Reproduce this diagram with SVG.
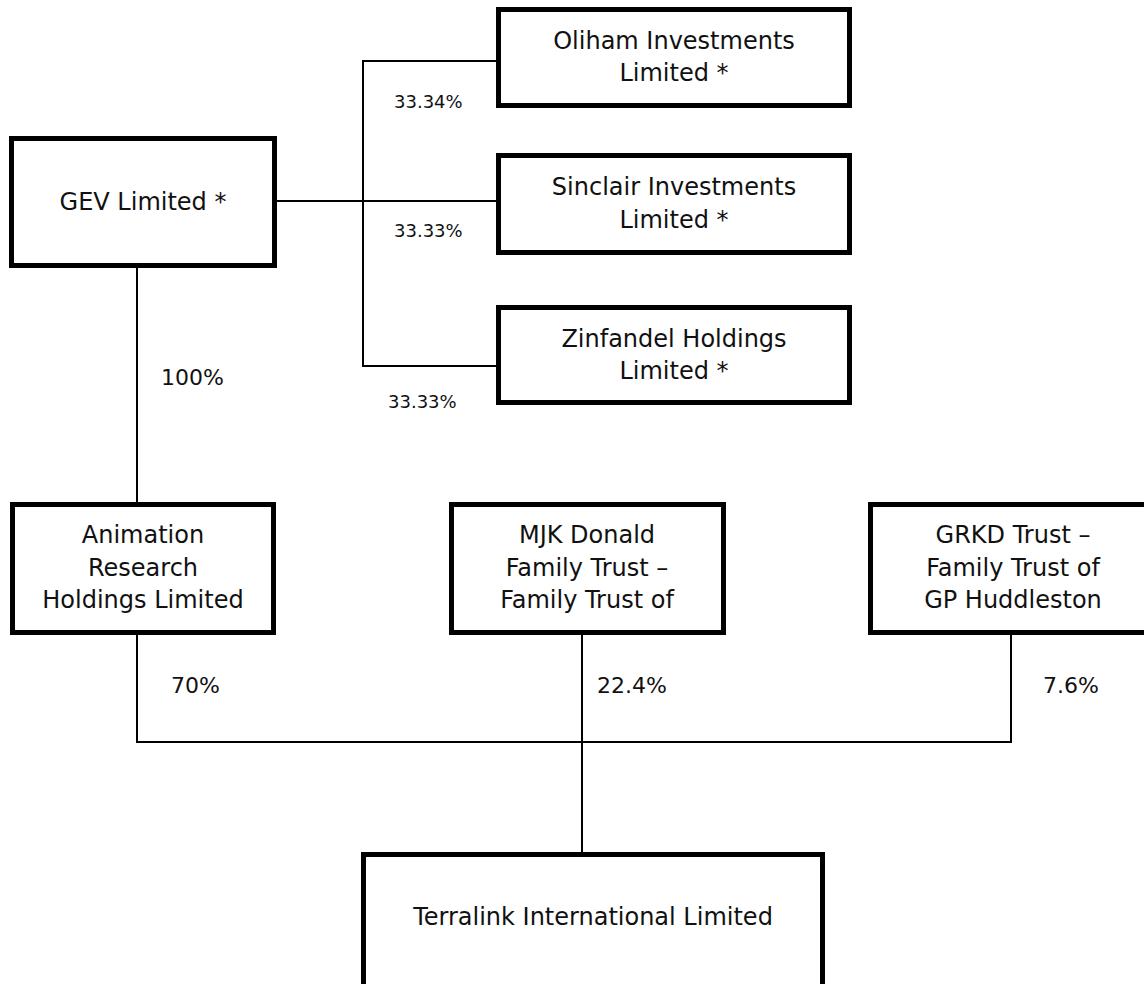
<svg xmlns="http://www.w3.org/2000/svg" width="1144" height="984" viewBox="0 0 1144 984">
<style>
.box{fill:#fff;stroke:#000;stroke-width:5;stroke-linejoin:miter}
.ln{fill:none;stroke:#000;stroke-width:2}
.t{font-family:"DejaVu Sans","Liberation Sans",sans-serif;font-size:24px;fill:#111;text-anchor:middle}
.p{font-family:"DejaVu Sans","Liberation Sans",sans-serif;font-size:22px;fill:#111}
.ps{font-family:"DejaVu Sans","Liberation Sans",sans-serif;font-size:18px;fill:#111}
</style>
<rect width="1144" height="984" fill="#fff"/>
<g id="connectors">
<line class="ln" x1="277" y1="201" x2="497" y2="201"/>
<line class="ln" x1="363" y1="60" x2="363" y2="367"/>
<line class="ln" x1="362" y1="61" x2="497" y2="61"/>
<line class="ln" x1="362" y1="366" x2="497" y2="366"/>
<line class="ln" x1="137" y1="268" x2="137" y2="503"/>
<line class="ln" x1="137" y1="634" x2="137" y2="743"/>
<line class="ln" x1="582" y1="634" x2="582" y2="853"/>
<line class="ln" x1="1011" y1="634" x2="1011" y2="743"/>
<line class="ln" x1="136" y1="742" x2="1012" y2="742"/>
<text class="ps" x="394" y="108">33.34%</text>
<text class="ps" x="394" y="237">33.33%</text>
<text class="ps" x="388" y="408">33.33%</text>
<text class="p" x="161" y="385">100%</text>
<text class="p" x="171" y="693">70%</text>
<text class="p" x="597" y="693">22.4%</text>
<text class="p" x="1043" y="693">7.6%</text>
</g>
<g id="gev">
<rect class="box" x="11.5" y="138.5" width="263" height="127"/>
<text class="t" x="143" y="210">GEV Limited *</text>
</g>
<g id="oliham">
<rect class="box" x="498.5" y="9.5" width="351" height="96"/>
<text class="t" x="674" y="49">Oliham Investments</text>
<text class="t" x="674" y="81">Limited *</text>
</g>
<g id="sinclair">
<rect class="box" x="498.5" y="155.5" width="351" height="97"/>
<text class="t" x="674" y="195">Sinclair Investments</text>
<text class="t" x="674" y="228">Limited *</text>
</g>
<g id="zinfandel">
<rect class="box" x="498.5" y="307.5" width="351" height="95"/>
<text class="t" x="674" y="347">Zinfandel Holdings</text>
<text class="t" x="674" y="379">Limited *</text>
</g>
<g id="animation">
<rect class="box" x="12.5" y="504.5" width="261" height="128"/>
<text class="t" x="143" y="543">Animation</text>
<text class="t" x="143" y="576">Research</text>
<text class="t" x="143" y="608">Holdings Limited</text>
</g>
<g id="mjk">
<rect class="box" x="451.5" y="504.5" width="272" height="128"/>
<text class="t" x="587" y="543">MJK Donald</text>
<text class="t" x="587" y="576">Family Trust –</text>
<text class="t" x="587" y="608">Family Trust of</text>
</g>
<g id="grkd">
<rect class="box" x="870.5" y="504.5" width="290" height="128"/>
<text class="t" x="1013" y="543">GRKD Trust –</text>
<text class="t" x="1013" y="576">Family Trust of</text>
<text class="t" x="1013" y="608">GP Huddleston</text>
</g>
<g id="terralink">
<rect class="box" x="363.5" y="854.5" width="459" height="150"/>
<text class="t" x="593" y="925">Terralink International Limited</text>
</g>
</svg>
